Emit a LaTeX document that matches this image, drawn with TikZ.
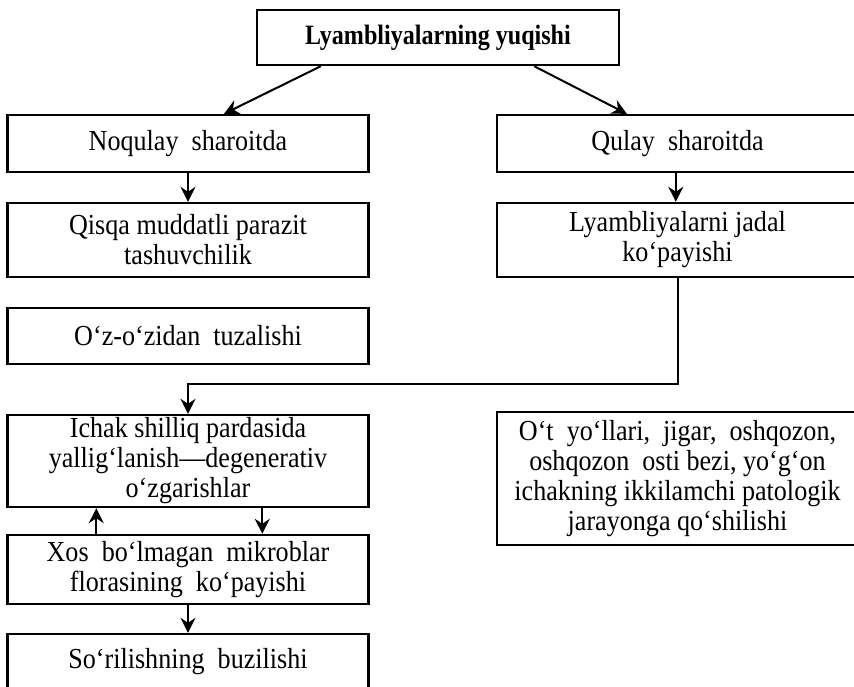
\documentclass[tikz,border=0pt]{standalone}
\usepackage{fontspec}
\setmainfont{Liberation Serif}[FakeStretch=0.9]
\newfontfamily\titlefont{Liberation Serif}[FakeStretch=0.86]
\usetikzlibrary{arrows.meta,positioning,calc}

\begin{document}
\begin{tikzpicture}[x=1pt, y=-1pt,
  box/.style={draw, rectangle, line width=2.4pt, minimum width=361pt, inner sep=2pt,
    align=center, font=\fontsize{29}{30}\selectfont},
  wide/.style={box, minimum width=372pt},
  flow/.style={-{Stealth[length=15pt, width=15pt, inset=5pt]}, line width=2pt}]
\useasboundingbox (0,0) rectangle (854,686);
\clip (0,0) rectangle (854,686);

% Lyambliyalarning yuqishi
\node[box, minimum width=362pt, minimum height=55pt, font=\titlefont\bfseries\fontsize{28}{28}\selectfont] (yuqish) at (438,37.5) {Lyambliyalarning yuqishi};

% left branch
\node[box, minimum height=57pt] (noqulay) at (188,143.5) {Noqulay\ \ sharoitda};
\node[box, minimum height=74pt] (qisqa) at (188,240) {Qisqa muddatli parazit\\tashuvchilik};
\node[box, minimum height=56pt] (tuzalish) at (188,336) {O‘z-o‘zidan\ \ tuzalishi};

% right branch (cut off at the right edge)
\node[wide, minimum height=57pt] (qulay) at (683,143.5) {\hspace*{-11pt}Qulay\ \ sharoitda};
\node[wide, minimum height=74pt] (jadal) at (683,240) {\hspace*{-11pt}Lyambliyalarni jadal\\\hspace*{-11pt}ko‘payishi};
\node[wide, minimum height=133pt] (otyol) at (683,478.5) {\hspace*{-11pt}O‘t\ \ yo‘llari,\ \ jigar,\ \ oshqozon,\\\hspace*{-11pt}oshqozon\ \ osti bezi,\ yo‘g‘on\\\hspace*{-11pt}ichakning ikkilamchi patologik\\\hspace*{-11pt}jarayonga qo‘shilishi};

% lower chain
\node[box, minimum height=92pt] (ichak) at (188,461) {Ichak shilliq pardasida\\yallig‘lanish—degenerativ\\o‘zgarishlar};
\node[box, minimum height=69pt] (xos) at (188,569.5) {Xos\ \ bo‘lmagan\ \ mikroblar\\florasining\ \ ko‘payishi};
\node[box, minimum height=56pt] (sorilish) at (188,662) {So‘rilishning\ \ buzilishi};

\coordinate (turn) at (188,384);

% Arrows
\draw[flow] ($(yuqish.south west)+(65,0)$) -- ($(noqulay.north)+(36,0)$);
\draw[flow] ($(yuqish.south east)+(-86,0)$) -- ($(qulay.north west)+(131,0)$);
\draw[flow] (noqulay) -- (qisqa);
\draw[flow] ($(qulay.south west)+(180,0)$) -- ($(jadal.north west)+(180,0)$);
\draw[flow] ($(jadal.south west)+(182,0)$) |- (turn) -- (ichak.north);
\draw[flow] ($(xos.north west)+(90,0)$) -- ($(ichak.south west)+(90,0)$);
\draw[flow] ($(ichak.south west)+(256,0)$) -- ($(xos.north west)+(256,0)$);
\draw[flow] (xos) -- (sorilish);

\end{tikzpicture}
\end{document}
